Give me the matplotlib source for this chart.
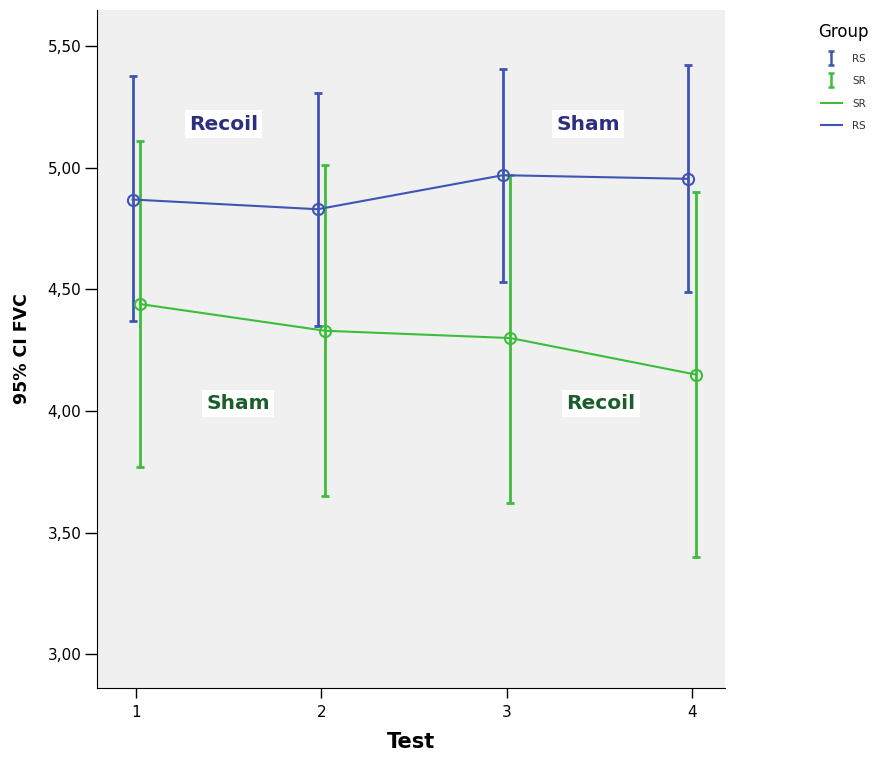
import matplotlib
matplotlib.use('Agg')
import matplotlib.pyplot as plt
from matplotlib.lines import Line2D
from matplotlib.path import Path
from matplotlib.ticker import FuncFormatter

plt.rcParams['font.family'] = ['DejaVu Sans']

tests = [1, 2, 3, 4]
# RS group: mean and 95% CI
rs_mean = [4.87, 4.83, 4.97, 4.955]
rs_low = [4.37, 4.35, 4.53, 4.49]
rs_high = [5.38, 5.31, 5.405, 5.425]
# SR group
sr_mean = [4.44, 4.33, 4.30, 4.15]
sr_low = [3.77, 3.65, 3.62, 3.40]
sr_high = [5.11, 5.01, 4.97, 4.90]

blue = '#3f55b4'
green = '#3cbd3c'

fig = plt.figure(figsize=(8.77, 7.62), dpi=100)
ax = fig.add_axes([0.111, 0.097, 0.716, 0.89])
ax.set_facecolor('#f0f0f0')

off = 0.02
rs_x = [t - off for t in tests]
sr_x = [t + off for t in tests]

ax.errorbar(rs_x, rs_mean,
            yerr=[[m - l for m, l in zip(rs_mean, rs_low)], [h - m for m, h in zip(rs_mean, rs_high)]],
            fmt='none', ecolor=blue, elinewidth=2, capsize=3, capthick=2, zorder=3)
ax.errorbar(sr_x, sr_mean,
            yerr=[[m - l for m, l in zip(sr_mean, sr_low)], [h - m for m, h in zip(sr_mean, sr_high)]],
            fmt='none', ecolor=green, elinewidth=2, capsize=3, capthick=2, zorder=3)
ax.plot(rs_x, rs_mean, '-', color=blue, lw=1.5, marker='o', ms=8, mfc='none', mew=1.5, zorder=4)
ax.plot(sr_x, sr_mean, '-', color=green, lw=1.5, marker='o', ms=8, mfc='none', mew=1.5, zorder=4)

box = dict(facecolor='white', edgecolor='none', pad=3)
ax.text(1.47, 5.18, 'Recoil', color='#2b2f7e', fontsize=14.5, fontweight='bold', ha='center', va='center', bbox=box)
ax.text(3.44, 5.18, 'Sham', color='#2b2f7e', fontsize=14.5, fontweight='bold', ha='center', va='center', bbox=box)
ax.text(1.55, 4.03, 'Sham', color='#1b5e2c', fontsize=14.5, fontweight='bold', ha='center', va='center', bbox=box)
ax.text(3.51, 4.03, 'Recoil', color='#1b5e2c', fontsize=14.5, fontweight='bold', ha='center', va='center', bbox=box)

ax.set_xlim(0.79, 4.18)
ax.set_ylim(2.86, 5.65)
ax.set_xticks(tests)
ax.set_yticks([3.0, 3.5, 4.0, 4.5, 5.0, 5.5])
ax.yaxis.set_major_formatter(FuncFormatter(lambda v, p: ('%.2f' % v).replace('.', ',')))
ax.tick_params(labelsize=11, width=1, colors='black')
ax.tick_params(axis='y', length=8.5, pad=3)
ax.tick_params(axis='x', length=7.5, pad=5)
ax.spines['top'].set_visible(False)
ax.spines['right'].set_visible(False)
ax.set_ylabel('95% CI FVC', fontsize=12.5, fontweight='bold', labelpad=12)
ax.set_xlabel('Test', fontsize=15, fontweight='bold', labelpad=8)

ibeam = Path([(-0.5, -1), (0.5, -1), (0, -1), (0, 1), (-0.5, 1), (0.5, 1)],
             [Path.MOVETO, Path.LINETO, Path.MOVETO, Path.LINETO, Path.MOVETO, Path.LINETO])
handles = [
    Line2D([], [], ls='none', marker=ibeam, ms=9.5, mec=blue, mew=1.8),
    Line2D([], [], ls='none', marker=ibeam, ms=9.5, mec=green, mew=1.8),
    Line2D([], [], color=green, lw=1.5),
    Line2D([], [], color=blue, lw=1.5),
]
leg = fig.legend(handles, ['RS', 'SR', 'SR', 'RS'], title='Group', loc='upper left',
                 bbox_to_anchor=(0.922, 0.982), frameon=False, fontsize=7.5,
                 title_fontsize=12, handlelength=2.0, labelspacing=1.2, handletextpad=1.0)
for t in leg.get_texts():
    t.set_color('#333333')

fig.savefig('out.png', dpi=100)
